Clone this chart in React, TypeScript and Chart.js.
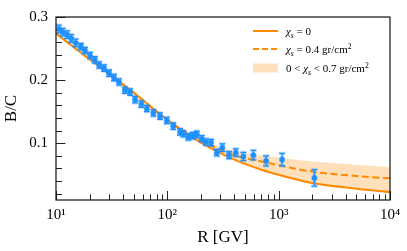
import React, { useEffect, useRef } from 'react';
import { Chart, registerables } from 'chart.js';

Chart.register(...registerables);

// ---- Model curves (rigidity in GV, B/C ratio) ----
const modelR = [10, 20, 50, 100, 200, 400, 700, 1000, 2000, 5000, 10000];
const bcChi0 = [0.274, 0.233, 0.18, 0.137, 0.101, 0.074, 0.058, 0.05, 0.037, 0.028, 0.0227];
const bcChi04 = [0.274, 0.233, 0.18, 0.137, 0.104, 0.081, 0.071, 0.065, 0.055, 0.048, 0.0443];
const bcChi07 = [0.274, 0.233, 0.18, 0.137, 0.106, 0.088, 0.081, 0.077, 0.071, 0.066, 0.062];

// ---- Measured B/C points ----
const dataR = [
  10.6, 11.5, 12.6, 13.7, 15.0, 16.7, 18.2, 20.2, 22.3, 24.4, 27.0, 29.9, 33.2, 36.8,
  41.5, 46.3, 51.3, 58.4, 65.4, 75.0, 86.0, 99.0, 113, 130, 139, 154, 169, 184, 204,
  222, 247, 278, 312, 358, 412, 482, 593, 771, 1073, 2094,
];
const dataBC = [
  0.281, 0.276, 0.272, 0.266, 0.259, 0.253, 0.247, 0.239, 0.232, 0.224, 0.219, 0.211, 0.204, 0.197,
  0.184, 0.181, 0.169, 0.162, 0.155, 0.148, 0.143, 0.136, 0.127, 0.118, 0.115, 0.11, 0.112, 0.114, 0.107,
  0.102, 0.101, 0.085, 0.093, 0.081, 0.085, 0.079, 0.081, 0.072, 0.074, 0.045,
];
const dataErr = [
  0.006, 0.006, 0.006, 0.006, 0.006, 0.005, 0.005, 0.005, 0.005, 0.005, 0.005, 0.005, 0.005, 0.005,
  0.005, 0.005, 0.005, 0.005, 0.005, 0.005, 0.005, 0.005, 0.005, 0.005, 0.005, 0.005, 0.005, 0.005, 0.005,
  0.005, 0.005, 0.005, 0.006, 0.0055, 0.006, 0.0065, 0.0075, 0.008, 0.01, 0.013,
];

// ---- Ticks ----
const xMajorValues = [10, 100, 1000, 10000];
const xTickLabels = ['10\u00B9', '10\u00B2', '10\u00B3', '10\u2074'];
const yTickValues = [0.02, 0.04, 0.06, 0.08, 0.1, 0.12, 0.14, 0.16, 0.18, 0.2, 0.22, 0.24, 0.26, 0.28, 0.3];
const yMajorValues = [0.1, 0.2, 0.3];
const yTickLabels = ['0.1', '0.2', '0.3'];

const xTickValues: number[] = [];
for (let e = 1; e <= 3; e++) {
  for (let m = 1; m <= 9; m++) xTickValues.push(m * Math.pow(10, e));
}
xTickValues.push(10000);

const FONT = '"Liberation Serif", "Times New Roman", serif';
const ORANGE = '#ff8a00';
const BAND = 'rgba(255, 140, 0, 0.27)';
const BLUE = '#1e90ff';
const BLUE_HALO = 'rgba(30, 144, 255, 0.3)';

type Seg = { t: string; it?: boolean; sub?: boolean; sup?: boolean };

function drawRich(ctx: CanvasRenderingContext2D, x: number, y: number, segs: Seg[], size: number) {
  let cx = x;
  for (const s of segs) {
    const fs = s.sub || s.sup ? size * 0.7 : size;
    ctx.font = `${s.it ? 'italic ' : ''}${fs}px ${FONT}`;
    const dy = s.sub ? size * 0.28 : s.sup ? -size * 0.38 : 0;
    ctx.fillText(s.t, cx, y + dy);
    cx += ctx.measureText(s.t).width;
  }
}

function strokeErrorBars(ctx: CanvasRenderingContext2D, scales: any) {
  ctx.beginPath();
  dataR.forEach((r, i) => {
    const px = scales.x.getPixelForValue(r);
    const y1 = scales.y.getPixelForValue(dataBC[i] + dataErr[i]);
    const y2 = scales.y.getPixelForValue(dataBC[i] - dataErr[i]);
    ctx.moveTo(px, y1);
    ctx.lineTo(px, y2);
    ctx.moveTo(px - 3, y1);
    ctx.lineTo(px + 3, y1);
    ctx.moveTo(px - 3, y2);
    ctx.lineTo(px + 3, y2);
  });
  ctx.stroke();
}

const frameTicksPlugin = {
  id: 'frameTicks',
  beforeDatasetsDraw(chart: any) {
    const { ctx, chartArea: a, scales } = chart;
    ctx.save();
    ctx.strokeStyle = '#222';
    ctx.lineWidth = 1;
    ctx.beginPath();
    for (const v of xTickValues) {
      const px = Math.round(scales.x.getPixelForValue(v)) + 0.5;
      const len = xMajorValues.includes(v) ? 9 : 5.5;
      ctx.moveTo(px, a.bottom);
      ctx.lineTo(px, a.bottom - len);
    }
    for (const v of yTickValues) {
      const py = Math.round(scales.y.getPixelForValue(v)) + 0.5;
      const len = yMajorValues.includes(v) ? 9.5 : 6;
      ctx.moveTo(a.left, py);
      ctx.lineTo(a.left + len, py);
    }
    ctx.stroke();
    ctx.restore();
  },
  beforeDatasetDraw(chart: any, args: any) {
    if (args.index !== 0) return;
    const { ctx, scales } = chart;
    ctx.save();
    ctx.strokeStyle = BLUE_HALO;
    ctx.lineWidth = 3.2;
    strokeErrorBars(ctx, scales);
    ctx.strokeStyle = BLUE;
    ctx.lineWidth = 1.3;
    strokeErrorBars(ctx, scales);
    ctx.restore();
  },
  afterDraw(chart: any) {
    const { ctx, chartArea: a } = chart;
    ctx.save();
    // frame
    ctx.strokeStyle = '#111';
    ctx.lineWidth = 1.2;
    ctx.strokeRect(a.left, a.top, a.right - a.left, a.bottom - a.top);
    // legend
    const sx = a.right - 137;
    const sw = 25;
    const tx = a.right - 104;
    const rows = [a.top + 14, a.top + 32, a.top + 51];
    ctx.strokeStyle = ORANGE;
    ctx.lineWidth = 2;
    ctx.beginPath();
    ctx.moveTo(sx, rows[0]);
    ctx.lineTo(sx + sw, rows[0]);
    ctx.stroke();
    ctx.setLineDash([6, 3]);
    ctx.beginPath();
    ctx.moveTo(sx, rows[1]);
    ctx.lineTo(sx + sw, rows[1]);
    ctx.stroke();
    ctx.setLineDash([]);
    ctx.fillStyle = BAND;
    ctx.fillRect(sx, rows[2] - 4.5, sw, 9);
    ctx.fillStyle = '#000';
    ctx.textBaseline = 'alphabetic';
    ctx.textAlign = 'left';
    const fs = 11;
    const off = 3.8;
    drawRich(ctx, tx, rows[0] + off, [{ t: '\u03C7', it: true }, { t: 's', it: true, sub: true }, { t: ' = 0' }], fs);
    drawRich(ctx, tx, rows[1] + off, [{ t: '\u03C7', it: true }, { t: 's', it: true, sub: true }, { t: ' = 0.4 gr/cm' }, { t: '2', sup: true }], fs);
    drawRich(ctx, tx, rows[2] + off, [{ t: '0 < ' }, { t: '\u03C7', it: true }, { t: 's', it: true, sub: true }, { t: ' < 0.7 gr/cm' }, { t: '2', sup: true }], fs);
    ctx.restore();
  },
};

export default function App() {
  const ref = useRef<HTMLCanvasElement>(null);
  useEffect(() => {
    document.body.style.margin = '0';
    const canvas = ref.current!;
    const chart = new Chart(canvas, {
      type: 'line',
      data: {
        datasets: [
          {
            label: 'B/C data',
            data: dataR.map((r, i) => ({ x: r, y: dataBC[i] })),
            showLine: false,
            pointRadius: 2.6,
            pointBackgroundColor: BLUE,
            pointBorderColor: BLUE_HALO,
            pointBorderWidth: 1.4,
            borderColor: BLUE,
          },
          {
            label: '\u03C7s = 0.4 gr/cm\u00B2',
            data: modelR.map((r, i) => ({ x: r, y: bcChi04[i] })),
            borderColor: ORANGE,
            borderWidth: 2,
            borderDash: [7, 3.5],
            pointRadius: 0,
            fill: false,
            cubicInterpolationMode: 'monotone',
          },
          {
            label: '\u03C7s = 0',
            data: modelR.map((r, i) => ({ x: r, y: bcChi0[i] })),
            borderColor: ORANGE,
            borderWidth: 2,
            pointRadius: 0,
            fill: false,
            cubicInterpolationMode: 'monotone',
          },
          {
            label: '0 < \u03C7s < 0.7 gr/cm\u00B2',
            data: modelR.map((r, i) => ({ x: r, y: bcChi07[i] })),
            borderColor: 'rgba(0,0,0,0)',
            borderWidth: 0,
            backgroundColor: BAND,
            pointRadius: 0,
            fill: 2,
            cubicInterpolationMode: 'monotone',
          },
        ],
      } as any,
      options: {
        responsive: false,
        animation: false,
        events: [],
        layout: { padding: { top: 10, right: 17, bottom: 0, left: 0 } },
        plugins: { legend: { display: false }, tooltip: { enabled: false } },
        scales: {
          x: {
            type: 'logarithmic',
            min: 10,
            max: 10000,
            afterBuildTicks: (s: any) => {
              s.ticks = xTickValues.map((v) => ({ value: v, major: xMajorValues.includes(v) }));
            },
            afterFit: (s: any) => {
              s.height = 51;
            },
            grid: { display: false, drawTicks: false },
            border: { display: false },
            ticks: {
              autoSkip: false,
              maxRotation: 0,
              padding: 6,
              color: '#000',
              font: { family: FONT, size: 15 },
              callback: (v: any) => {
                const i = xMajorValues.indexOf(Number(v));
                return i >= 0 ? xTickLabels[i] : '';
              },
            },
            title: {
              display: true,
              text: 'R [GV]',
              color: '#000',
              font: { family: FONT, size: 17 },
              padding: { top: 0, bottom: 3 },
            },
          },
          y: {
            min: 0.01,
            max: 0.3,
            afterBuildTicks: (s: any) => {
              s.ticks = yTickValues.map((v) => ({ value: v }));
            },
            afterFit: (s: any) => {
              s.width = 56;
            },
            grid: { display: false, drawTicks: false },
            border: { display: false },
            ticks: {
              autoSkip: false,
              padding: 8,
              color: '#000',
              font: { family: FONT, size: 15 },
              callback: (v: any) => {
                const i = yMajorValues.findIndex((m) => Math.abs(m - Number(v)) < 1e-9);
                return i >= 0 ? yTickLabels[i] : '';
              },
            },
            title: {
              display: true,
              text: 'B/C',
              color: '#000',
              font: { family: FONT, size: 17 },
              padding: { top: 1, bottom: 0 },
            },
          },
        },
      } as any,
      plugins: [frameTicksPlugin],
    });
    return () => chart.destroy();
  }, []);
  return <canvas ref={ref} width={407} height={251} style={{ display: 'block', width: 407, height: 251 }} />;
}
